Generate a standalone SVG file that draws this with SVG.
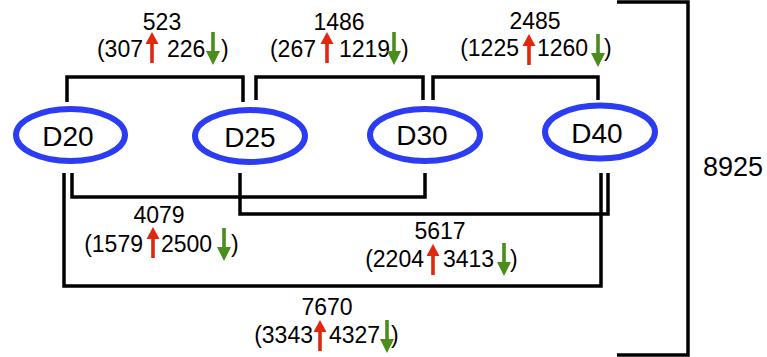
<svg xmlns="http://www.w3.org/2000/svg" xmlns:xlink="http://www.w3.org/1999/xlink" width="767" height="357" viewBox="0 0 767 357">
<style>
.node ellipse{fill:#fff;stroke:#2b3cf2;stroke-width:6}
.node text{font-family:"Liberation Sans",Arial,sans-serif;font-size:28px;fill:#000;text-anchor:middle}
.conn path{fill:none;stroke:#000;stroke-width:3.5}
.lbl{font-family:"Liberation Sans",Arial,sans-serif;font-size:23px;fill:#000}
.mid{text-anchor:middle}.end{text-anchor:end}
.big{font-family:"Liberation Sans",Arial,sans-serif;font-size:27px;fill:#000}
</style>
<defs>
<path id="up" d="M-1.8,31 V12 H-6.5 L0,0 L6.5,12 H1.8 V31 Z" fill="#e3260e"/>
<path id="dn" d="M-1.8,0 V19 H-7 L0,33 L7,19 H1.8 V0 Z" fill="#4a8d1d"/>
</defs>
<g class="conn" id="connectors">
<path d="M67,102 V77 H243 V102"/>
<path d="M256,100 V77 H423 V100"/>
<path d="M433,100 V77 H598 V100"/>
<path d="M72,173 V197 H425 V173"/>
<path d="M240,173 V214 H608 V173"/>
<path d="M64,173 V286 H601 V173"/>
<path d="M617,2 H688 V355 H617"/>
</g>
<g class="node" id="D20"><ellipse cx="70.5" cy="135" rx="54.5" ry="26"/><text x="68" y="146">D20</text></g>
<g class="node" id="D25"><ellipse cx="250" cy="136" rx="55" ry="26"/><text x="250" y="147">D25</text></g>
<g class="node" id="D30"><ellipse cx="425" cy="135" rx="55" ry="26"/><text x="422" y="145">D30</text></g>
<g class="node" id="D40"><ellipse cx="600" cy="132" rx="55" ry="26.5"/><text x="597" y="143">D40</text></g>
<g id="label-523">
<text class="lbl mid" x="162" y="30">523</text>
<text class="lbl end" x="143" y="57">(307</text>
<use xlink:href="#up" x="152" y="32"/>
<text class="lbl" x="167" y="57">226</text>
<use xlink:href="#dn" x="213" y="32"/>
<text class="lbl" x="221" y="57">)</text>
</g>
<g id="label-1486">
<text class="lbl mid" x="339" y="30">1486</text>
<text class="lbl end" x="316" y="57">(267</text>
<use xlink:href="#up" x="327" y="32"/>
<text class="lbl" x="339" y="57">1219</text>
<use xlink:href="#dn" x="394" y="32"/>
<text class="lbl" x="401" y="57">)</text>
</g>
<g id="label-2485">
<text class="lbl mid" x="535" y="29">2485</text>
<text class="lbl end" x="519" y="56">(1225</text>
<use xlink:href="#up" x="529" y="34"/>
<text class="lbl" x="537" y="56">1260</text>
<use xlink:href="#dn" x="598" y="34"/>
<text class="lbl" x="604" y="56">)</text>
</g>
<g id="label-4079">
<text class="lbl mid" x="159" y="223">4079</text>
<text class="lbl end" x="143" y="252">(1579</text>
<use xlink:href="#up" x="153" y="227"/>
<text class="lbl" x="161" y="252">2500</text>
<use xlink:href="#dn" x="224" y="228"/>
<text class="lbl" x="231" y="252">)</text>
</g>
<g id="label-5617">
<text class="lbl mid" x="440" y="239">5617</text>
<text class="lbl end" x="424" y="267">(2204</text>
<use xlink:href="#up" x="433" y="244"/>
<text class="lbl" x="443" y="267">3413</text>
<use xlink:href="#dn" x="504" y="243"/>
<text class="lbl" x="510" y="267">)</text>
</g>
<g id="label-7670">
<text class="lbl mid" x="327" y="315">7670</text>
<text class="lbl end" x="313" y="343">(3343</text>
<use xlink:href="#up" x="320" y="320"/>
<text class="lbl" x="329" y="343">4327</text>
<use xlink:href="#dn" x="387" y="320"/>
<text class="lbl" x="391" y="343">)</text>
</g>
<text class="big" id="total" x="703" y="176">8925</text>
</svg>
